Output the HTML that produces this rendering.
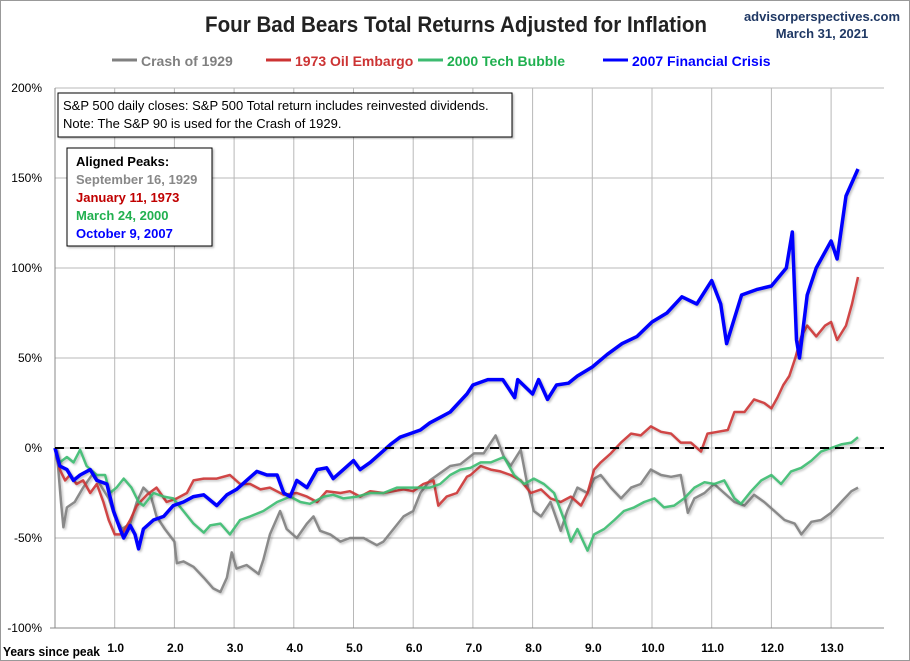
<!DOCTYPE html>
<html><head><meta charset="utf-8"><style>
body{margin:0;background:#fff;}
svg{display:block;font-family:"Liberation Sans",sans-serif;}
</style></head><body>
<svg id="chart" width="910" height="661" viewBox="0 0 910 661" xmlns="http://www.w3.org/2000/svg">
<defs><filter id="sh" x="-5%" y="-5%" width="110%" height="110%"><feDropShadow dx="1.5" dy="1.5" stdDeviation="1" flood-color="#000" flood-opacity="0.25"/></filter></defs>
<rect x="0.5" y="0.5" width="909" height="660" fill="#fff" stroke="#999"/>
<text x="456" y="32" text-anchor="middle" font-size="22" font-weight="bold" fill="#222" textLength="502" lengthAdjust="spacingAndGlyphs">Four Bad Bears Total Returns Adjusted for Inflation</text>
<text x="822" y="21" text-anchor="middle" font-size="13" font-weight="bold" fill="#1f3864">advisorperspectives.com</text>
<text x="822" y="38" text-anchor="middle" font-size="13" font-weight="bold" fill="#1f3864">March 31, 2021</text>
<g id="grid"></g>
<g id="axes"></g>
<g id="series"></g>
<g id="legend"></g>
<g filter="url(#sh)">
<rect x="58" y="93" width="454" height="44" fill="#fff" stroke="#000"/>
<text x="63" y="110" font-size="13" fill="#000">S&amp;P 500 daily closes: S&amp;P 500 Total return includes reinvested dividends.</text>
<text x="63" y="128" font-size="13" fill="#000">Note: The S&amp;P 90 is used for the Crash of 1929.</text>
</g>
<g filter="url(#sh)">
<rect x="67" y="148" width="145" height="98" fill="#fff" stroke="#000"/>
<text x="76" y="166" font-size="13" font-weight="bold" fill="#000">Aligned Peaks:</text>
<text x="76" y="184" font-size="13" font-weight="bold" fill="#888">September 16, 1929</text>
<text x="76" y="202" font-size="13" font-weight="bold" fill="#c00000">January 11, 1973</text>
<text x="76" y="220" font-size="13" font-weight="bold" fill="#20b050">March 24, 2000</text>
<text x="76" y="238" font-size="13" font-weight="bold" fill="#0000ff">October 9, 2007</text>
</g>
</svg>
<script>
const yTicks=[200,150,100,50,0,-50,-100];
const yTickLabels=["200%","150%","100%","50%","0%","-50%","-100%"];
const xTicks=[1,2,3,4,5,6,7,8,9,10,11,12,13];
const xTickLabels=["1.0","2.0","3.0","4.0","5.0","6.0","7.0","8.0","9.0","10.0","11.0","12.0","13.0"];
const seriesNames=["Crash of 1929","1973 Oil Embargo","2000 Tech Bubble","2007 Financial Crisis"];

const t1929=[0,0.05,0.1,0.14,0.2,0.33,0.47,0.64,0.75,0.9,1.0,1.12,1.26,1.37,1.48,1.6,1.7,1.84,2.0,2.04,2.15,2.32,2.49,2.65,2.77,2.88,2.96,3.04,3.21,3.41,3.49,3.6,3.77,3.88,4.05,4.22,4.33,4.44,4.61,4.78,4.94,5.17,5.39,5.5,5.67,5.84,6.0,6.12,6.28,6.45,6.62,6.79,7.02,7.18,7.38,7.52,7.63,7.8,7.91,8.02,8.14,8.3,8.47,8.58,8.75,8.92,9.03,9.14,9.31,9.48,9.65,9.81,9.98,10.15,10.32,10.48,10.6,10.71,10.88,11.04,11.21,11.38,11.55,11.71,11.88,12.05,12.22,12.39,12.5,12.67,12.83,13.0,13.17,13.34,13.45];
const v1929=[0,-10,-30,-44,-33,-30,-22,-14,-20,-28,-38,-45,-42,-30,-22,-26,-38,-45,-52,-64,-63,-66,-72,-78,-80,-72,-58,-67,-65,-70,-62,-48,-35,-45,-50,-42,-38,-46,-48,-52,-50,-50,-54,-52,-45,-38,-35,-25,-18,-14,-10,-9,-3,-3,7,-5,-10,-1,-20,-35,-38,-30,-46,-35,-22,-25,-17,-15,-22,-28,-22,-20,-12,-15,-16,-15,-36,-28,-25,-20,-25,-30,-32,-26,-30,-35,-40,-42,-48,-41,-40,-36,-30,-24,-22];

const t1973=[0,0.08,0.17,0.25,0.36,0.47,0.59,0.7,0.81,0.9,1.0,1.12,1.26,1.37,1.54,1.7,1.87,2.04,2.21,2.32,2.49,2.71,2.93,3.1,3.27,3.44,3.6,3.83,4.05,4.22,4.39,4.55,4.78,4.94,5.11,5.28,5.5,5.67,5.84,6.0,6.17,6.34,6.42,6.56,6.73,6.9,6.96,7.13,7.3,7.46,7.63,7.8,7.97,8.14,8.3,8.47,8.64,8.81,8.92,9.03,9.14,9.31,9.48,9.65,9.81,9.98,10.15,10.32,10.48,10.65,10.82,10.93,11.1,11.27,11.38,11.55,11.71,11.88,12.0,12.1,12.2,12.3,12.4,12.5,12.6,12.75,12.9,13.0,13.1,13.25,13.35,13.45];
const v1973=[0,-12,-18,-15,-20,-18,-25,-20,-30,-40,-48,-48,-40,-32,-26,-22,-30,-28,-25,-18,-17,-17,-15,-20,-20,-23,-22,-26,-25,-27,-30,-24,-25,-24,-27,-24,-25,-24,-23,-24,-20,-18,-32,-27,-25,-16,-15,-10,-12,-13,-15,-18,-25,-23,-28,-30,-27,-32,-25,-12,-8,-3,3,8,7,12,9,8,3,3,-2,8,9,10,20,20,27,25,22,28,35,40,50,62,68,62,68,70,60,68,80,95];

const t2000=[0,0.08,0.2,0.31,0.42,0.53,0.7,0.84,0.92,1.03,1.15,1.28,1.4,1.48,1.65,1.82,1.98,2.15,2.32,2.49,2.6,2.77,2.93,3.1,3.27,3.49,3.72,3.94,4.11,4.27,4.5,4.66,4.83,5.06,5.28,5.5,5.73,5.95,6.12,6.28,6.45,6.62,6.79,6.96,7.13,7.3,7.52,7.69,7.86,8.02,8.19,8.36,8.53,8.64,8.75,8.92,9.03,9.2,9.37,9.53,9.7,9.87,10.04,10.2,10.37,10.54,10.71,10.88,11.04,11.21,11.38,11.49,11.66,11.83,12.0,12.16,12.33,12.5,12.67,12.83,13.0,13.17,13.34,13.45];
const v2000=[0,-8,-5,-8,-1,-10,-15,-15,-25,-22,-17,-22,-30,-32,-25,-27,-28,-35,-42,-47,-43,-42,-48,-40,-38,-35,-30,-27,-30,-31,-27,-26,-28,-27,-25,-25,-22,-22,-22,-22,-20,-15,-12,-11,-8,-8,-5,-15,-20,-17,-20,-25,-40,-52,-45,-57,-48,-45,-40,-35,-33,-30,-28,-33,-32,-28,-22,-19,-20,-18,-28,-31,-24,-18,-15,-20,-13,-11,-7,-2,0,2,3,6];

const t2007=[0,0.08,0.2,0.31,0.42,0.59,0.7,0.87,0.98,1.09,1.15,1.26,1.34,1.4,1.48,1.65,1.82,1.98,2.15,2.32,2.49,2.71,2.88,3.04,3.21,3.38,3.55,3.72,3.83,3.94,4.05,4.22,4.39,4.55,4.66,4.83,5.0,5.11,5.28,5.45,5.62,5.78,5.95,6.12,6.28,6.45,6.62,6.9,7.0,7.25,7.5,7.7,7.75,8.0,8.1,8.25,8.4,8.6,8.75,9.0,9.25,9.5,9.75,10.0,10.25,10.5,10.75,11.0,11.15,11.25,11.5,11.75,12.0,12.25,12.35,12.42,12.47,12.6,12.75,13.0,13.1,13.25,13.45];
const v2007=[0,-10,-12,-18,-15,-12,-18,-20,-35,-45,-50,-43,-48,-56,-45,-40,-38,-32,-30,-27,-26,-32,-26,-23,-18,-13,-15,-15,-25,-27,-18,-22,-12,-11,-17,-12,-7,-12,-8,-3,2,6,8,10,14,17,20,30,35,38,38,28,38,30,38,27,35,36,40,45,52,58,62,70,75,84,80,93,80,58,85,88,90,100,120,60,50,85,100,115,105,140,155];

const X0=55,PX=59.7,Y0=448,PY=1.8;
const xs=t=>X0+t*PX, ys=v=>Y0-v*PY;
const NS="http://www.w3.org/2000/svg";
function mk(tag,attrs,parent){const e=document.createElementNS(NS,tag);for(const k in attrs)e.setAttribute(k,attrs[k]);parent.appendChild(e);return e;}
const grid=document.getElementById('grid'),axes=document.getElementById('axes'),ser=document.getElementById('series'),leg=document.getElementById('legend');

yTicks.forEach((v,i)=>{
  const l=mk('line',{x1:X0,x2:884,y1:ys(v),y2:ys(v),stroke:'#b8b8b8','stroke-width':1},grid);
  
  
  const t=mk('text',{x:42,y:ys(v)+4,'text-anchor':'end','font-size':12,fill:'#000'},axes);
  t.textContent=yTickLabels[i];
  
  
});
xTicks.forEach((v,i)=>{
  const l=mk('line',{x1:xs(v),x2:xs(v),y1:ys(200),y2:ys(-100),stroke:'#b8b8b8','stroke-width':1},grid);
  
  
  const t=mk('text',{x:xs(v)+1,y:652,'text-anchor':'middle','font-size':12,'font-weight':'bold',fill:'#000'},axes);
  t.textContent=xTickLabels[i];
  
  
});
const ya=mk('line',{x1:X0,x2:X0,y1:ys(200),y2:ys(-100),stroke:'#888','stroke-width':1},axes);


const xa=mk('line',{x1:X0-5,x2:884,y1:ys(-100),y2:ys(-100),stroke:'#888','stroke-width':1},axes);


const xt=mk('text',{x:3,y:656,'font-size':13,'font-weight':'bold',fill:'#000',textLength:97,lengthAdjust:'spacingAndGlyphs'},axes);
xt.textContent='Years since peak';



const colors=['#808080','#cc3333','#3cbb70','#0000ff'];
const widths=[2.5,2.5,2.5,3.5];
const data=[[t1929,v1929],[t1973,v1973],[t2000,v2000],[t2007,v2007]];
const keys=['crash-1929','oil-embargo-1973','tech-bubble-2000','financial-crisis-2007'];
data.forEach((d,i)=>{
  const pts=d[0].map((t,j)=>xs(t).toFixed(1)+','+ys(d[1][j]).toFixed(1)).join(' ');
  const p=mk('polyline',{points:pts,fill:'none',stroke:colors[i],'stroke-width':widths[i],'stroke-linejoin':'round',filter:'url(#sh)','stroke-opacity':i==3?1:0.9},ser);
  
  
});
const zl=mk('line',{x1:X0,x2:884,y1:ys(0),y2:ys(0),stroke:'#000','stroke-width':2,'stroke-dasharray':'9,6'},ser);



const lx=[112,266,418,603];
const lcol=['#808080','#cc3333','#20b050','#0000ff'];
seriesNames.forEach((n,i)=>{
  const g=mk('g',{},leg);
  
  
  mk('line',{x1:lx[i],x2:lx[i]+25,y1:60,y2:60,stroke:colors[i],'stroke-width':3},g);
  const t=mk('text',{x:lx[i]+29,y:66,'font-size':14,'font-weight':'bold',fill:lcol[i]},g);
  t.textContent=n;
});
</script>
</body></html>
